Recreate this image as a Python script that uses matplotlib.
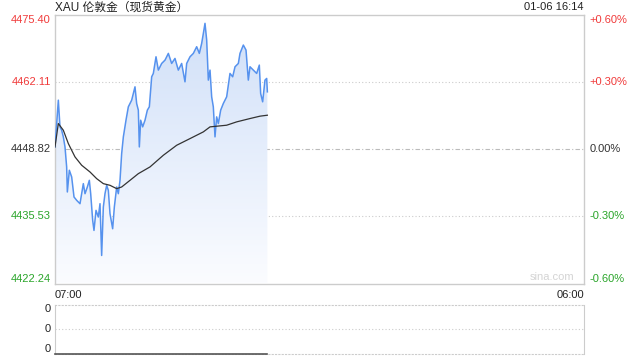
import numpy as np
import matplotlib.pyplot as plt
from matplotlib.colors import LinearSegmentedColormap

plt.rcParams['font.family'] = ['Liberation Sans', 'Noto Sans CJK SC', 'DejaVu Sans']

# minutes after 07:00, price
t_price = [0, 4.35, 8.7, 13.0, 17.4, 21.7, 26.1, 30.4, 32.2, 37.4, 43.5, 49.6, 56.5, 65.2,
           73.9, 78.3, 84.4, 89.6, 93.1, 98.3, 101.7, 107.0, 113.0, 117.4, 121.7, 126.1,
           130.4, 134.8, 139.1, 143.5, 150.4, 154.8, 160.9, 165.2, 169.6, 173.9, 178.3,
           185.2, 191.3, 200.0, 208.7, 213.0, 217.4, 220.0, 223.5, 228.7, 234.8, 240.9,
           246.1, 252.2, 256.5, 263.5, 269.6, 278.3, 287.0, 295.7, 304.3, 313.0, 321.7,
           330.4, 339.1, 343.5, 352.2, 360.9, 369.6, 376.5, 382.6, 387.0, 391.3, 395.7,
           400.0, 404.4, 408.7, 413.0, 417.4, 421.7, 426.1, 432.2, 439.1, 447.8, 456.5,
           463.5, 469.6, 478.3, 482.6, 491.3, 498.3, 504.3, 508.7, 517.4, 526.1, 533.0,
           536.5, 541.7, 547.8, 552.2, 554.0]
price = [4449.28, 4453.91, 4458.54, 4453.25, 4452.59, 4451.27, 4449.28, 4445.32, 4440.36,
         4444.66, 4443.33, 4439.37, 4438.71, 4438.04, 4442.01, 4440.02, 4441.35, 4442.67,
         4440.02, 4434.74, 4432.75, 4436.72, 4435.40, 4438.04, 4427.79, 4437.38, 4440.02,
         4441.68, 4440.69, 4436.06, 4433.08, 4437.38, 4441.35, 4440.02, 4442.67, 4447.96,
         4451.27, 4454.57, 4457.22, 4458.54, 4461.18, 4457.88, 4456.56, 4449.28, 4454.57,
         4453.25, 4454.57, 4456.56, 4457.22, 4463.17, 4463.83, 4467.13, 4464.49, 4465.81,
         4466.47, 4467.80, 4465.81, 4466.80, 4464.49, 4465.81, 4462.17, 4465.81, 4467.13,
         4467.80, 4469.12, 4467.80, 4469.78, 4471.76, 4473.75, 4470.44, 4462.51, 4464.49,
         4459.20, 4457.22, 4451.27, 4455.23, 4453.91, 4456.56, 4457.88, 4459.20, 4463.83,
         4463.17, 4465.15, 4465.81, 4467.80, 4469.45, 4468.46, 4462.51, 4465.15, 4464.49,
         4463.83, 4465.48, 4459.86, 4458.21, 4462.51, 4462.84, 4460.19]

t_avg = [0, 8.7, 21.7, 34.8, 52.2, 69.6, 91.3, 108.7, 126.1, 143.5, 160.9, 173.9, 195.7,
         217.4, 247.8, 282.6, 317.4, 352.2, 387.0, 404.4, 421.7, 447.8, 473.9, 508.7,
         534.8, 554.0]
avg = [4449.28, 4453.91, 4452.59, 4449.94, 4447.30, 4445.65, 4444.32, 4443.00, 4442.01,
       4441.68, 4441.02, 4441.35, 4442.67, 4443.99, 4445.32, 4447.63, 4449.61, 4450.93,
       4452.26, 4453.25, 4453.38, 4453.58, 4454.24, 4454.90, 4455.37, 4455.56]

prev_close = 4448.82
left_ticks = [4475.40, 4462.11, 4448.82, 4435.53, 4422.24]
right_ticks = ['+0.60%', '+0.30%', '0.00%', '-0.30%', '-0.60%']
tick_colors = ['#f03a3a', '#f03a3a', '#333333', '#2aa52a', '#2aa52a']
x_labels = ['07:00', '06:00']
total_min = 1380
vol_t = [0, 554]
vol = [0, 0]

fig = plt.figure(figsize=(6.4, 3.6), dpi=100)
ax = fig.add_axes([55 / 640, 1 - 283.5 / 360, 529 / 640, 268.5 / 360])
axv = fig.add_axes([55 / 640, 1 - 354.3 / 360, 529 / 640, 49.8 / 360])

ymin, ymax = left_ticks[-1], left_ticks[0]
ax.set_xlim(0, total_min)
ax.set_ylim(ymin, ymax)

# gradient fill under the price line
cmap = LinearSegmentedColormap.from_list('g', ['#fbfcff', '#cfdff8'])
poly = ax.fill_between(t_price, price, ymin, color='none', lw=0)
grad = np.linspace(0, 1, 256).reshape(-1, 1)
im = ax.imshow(grad, cmap=cmap, aspect='auto', origin='lower',
               extent=[0, total_min, ymin, ymax], zorder=1)
im.set_clip_path(poly.get_paths()[0], transform=ax.transData)

for v in left_ticks[1:-1]:
    if v == prev_close:
        ax.axhline(v, color='#bbbbbb', lw=0.8, ls=(0, (4, 2, 1, 2)), zorder=0)
    else:
        ax.axhline(v, color='#cccccc', lw=0.8, ls=(0, (1, 2)), zorder=0)

ax.plot(t_price, price, color='#5692ee', lw=1.1, zorder=3)
ax.plot(t_avg, avg, color='#333333', lw=0.9, zorder=4)

for s in ax.spines.values():
    s.set_color('#cccccc')
    s.set_linewidth(1)
ax.set_xticks([])
ax.set_yticks([])

vas = ['top', 'center', 'center', 'center', 'bottom']
for v, lab, c, va in zip(left_ticks, right_ticks, tick_colors, vas):
    ax.text(-0.008, v, f'{v:.2f}', transform=ax.get_yaxis_transform(),
            ha='right', va=va, fontsize=8, color=c)
    ax.text(1.011, v, lab, transform=ax.get_yaxis_transform(),
            ha='left', va=va, fontsize=8, color=c)

ax.text(0.0, -0.025, x_labels[0], transform=ax.transAxes, ha='left', va='top',
        fontsize=8, color='#222222')
ax.text(1.0, -0.025, x_labels[1], transform=ax.transAxes, ha='right', va='top',
        fontsize=8, color='#222222')
ax.text(0.94, 0.005, 'sina.com', transform=ax.transAxes, ha='center', va='bottom',
        fontsize=8, color='#d4d4d4')

# volume panel
axv.set_xlim(0, total_min)
axv.set_ylim(0, 1)
axv.axhline(0.5, color='#cccccc', lw=0.8, ls=(0, (1, 2)))
axv.plot(vol_t, vol, color='#555555', lw=1.2, clip_on=False, zorder=3)
axv.spines['left'].set_color('#cccccc')
axv.spines['right'].set_color('#cccccc')
for side in ['top', 'bottom']:
    axv.spines[side].set_color('#cccccc')
    axv.spines[side].set_linestyle((0, (1, 2)))
axv.set_xticks([])
axv.set_yticks([])
for y, va in zip([1, 0.5, 0], ['top', 'center', 'bottom']):
    axv.text(-0.008, y, '0', transform=axv.get_yaxis_transform(),
             ha='right', va=va, fontsize=8, color='#222222')

fig.text(55 / 640, 1 - 7.5 / 360, 'XAU 伦敦金（现货黄金）', ha='left', va='center',
         fontsize=8.5, color='#222222')
fig.text(584 / 640, 1 - 7.5 / 360, '01-06 16:14', ha='right', va='center',
         fontsize=8, color='#222222')

fig.savefig('out.png', dpi=100)
